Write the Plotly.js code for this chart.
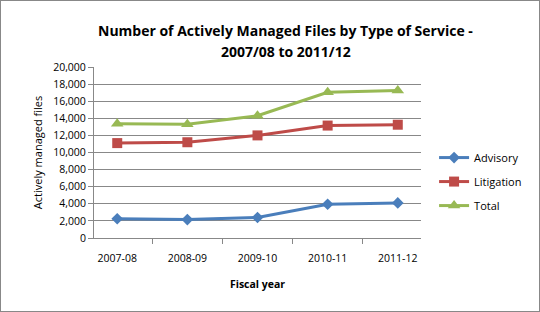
<!DOCTYPE html>
<html><head><meta charset="utf-8">
<script src="https://cdn.plot.ly/plotly-3.0.1.min.js"></script>
<style>body{margin:0;padding:0;background:#fff}#c{width:538px;height:310px;border:1px solid #888;}</style>
</head><body><div id="c"></div>
<script>
var years = ["2007-08","2008-09","2009-10","2010-11","2011-12"];
var advisory = [2250, 2150, 2400, 3950, 4100];
var litigation = [11100, 11200, 12000, 13150, 13250];
var total = [13350, 13300, 14300, 17050, 17250];
var yTicks = [0,2000,4000,6000,8000,10000,12000,14000,16000,18000,20000];
var yTickText = ["0","2,000","4,000","6,000","8,000","10,000","12,000","14,000","16,000","18,000","20,000"];
var titleLines = ["Number of Actively Managed Files by Type of Service -", "2007/08 to 2011/12"];

var F = "Open Sans, Liberation Sans, sans-serif";
function tr(name, y, color, sym, size){
  return {x: years, y: y, name: name, legendgroup: name, type: "scatter", mode: "lines+markers",
    line: {color: color, width: 3}, marker: {symbol: sym, size: size, color: color}};
}
var data = [
  tr("Advisory", advisory, "#4a7ebb", "diamond", 9),
  tr("Litigation", litigation, "#be4b48", "square", 10),
  tr("Total", total, "#98b954", "triangle-up", 11)
];
var titleY = [1.216, 1.088];
var layout = {
  width: 538, height: 310,
  margin: {l: 93, r: 116, t: 66, b: 73},
  paper_bgcolor: "#fff", plot_bgcolor: "#fff",
  font: {family: F, size: 10, color: "#000"},
  annotations: titleLines.map(function(t, i){
    return {text: "<b>" + t + "</b>", xref: "paper", yref: "paper", x: 0.587, y: titleY[i],
      xanchor: "center", yanchor: "middle", showarrow: false, font: {family: F, size: 14, color: "#000"}};
  }),
  xaxis: {type: "category", tickson: "boundaries", ticks: "outside", ticklen: 5, tickcolor: "#888",
    showline: true, linecolor: "#888", linewidth: 1, showgrid: false, zeroline: false,
    tickfont: {family: F, size: 10.5}, ticklabelstandoff: 10,
    title: {text: "<b>Fiscal year</b>", font: {family: F, size: 10.5}, standoff: 17}},
  yaxis: {range: [0, 20000], tickvals: yTicks, ticktext: yTickText, ticks: "outside", ticklen: 5, tickcolor: "#888",
    showline: true, linecolor: "#888", showgrid: true, gridcolor: "#888", gridwidth: 1, zeroline: false,
    tickfont: {family: F, size: 10.5},
    title: {text: "Actively managed files", font: {family: F, size: 11}, standoff: 8}},
  legend: {x: 1.04, xanchor: "left", y: 0.33, yanchor: "middle", font: {family: F, size: 11},
    tracegroupgap: 5, itemwidth: 30, bgcolor: "rgba(0,0,0,0)"},
  showlegend: true
};
Plotly.newPlot("c", data, layout, {displayModeBar: false, staticPlot: true});
</script></body></html>
